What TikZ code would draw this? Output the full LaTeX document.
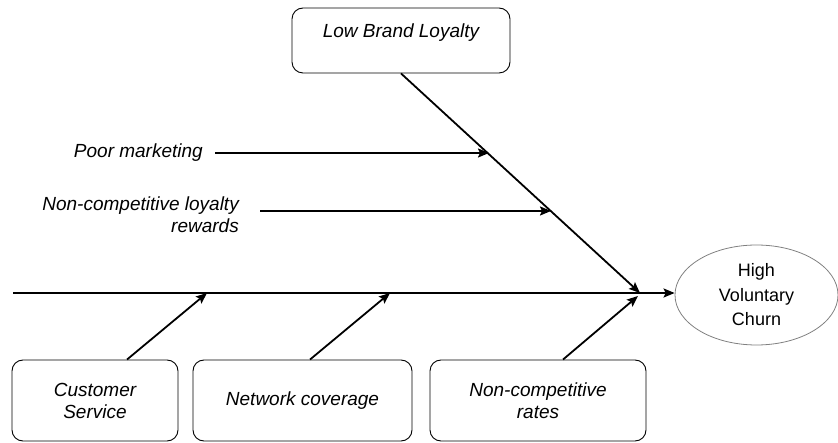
\documentclass[tikz,border=0pt]{standalone}
\usepackage{fontspec}
\setmainfont{Liberation Sans}
\usetikzlibrary{shapes,arrows.meta}
\tikzset{cause/.style={rectangle,draw,rounded corners=11pt,line width=0.9pt,align=center,font=\itshape\fontsize{19}{22}\selectfont}}
\tikzset{churn/.style={ellipse,draw=gray,line width=0.8pt,minimum width=163pt,minimum height=100pt,inner sep=0pt,align=center,font=\fontsize{18}{24.5}\selectfont}}
\tikzset{sub/.style={inner sep=0pt,align=right,font=\itshape\fontsize{19}{22}\selectfont}}
\tikzset{bone/.style={line width=1.8pt,-{Stealth[length=11pt,width=9pt,inset=2pt]}}}

\begin{document}
\begin{tikzpicture}[x=1pt,y=-1pt]
    \useasboundingbox (0,0) rectangle (838,443);

    \node[cause,minimum width=218pt,minimum height=65pt,text depth=19pt] (b)at (401,40.5) {Low Brand Loyalty};
    \node[churn] (c)at (756.5,295) {High\\Voluntary\\Churn};
    \node[cause,minimum width=166pt,minimum height=81pt] (cs)at (95,400.5) {Customer\\Service};
    \node[cause,minimum width=219pt,minimum height=81pt] (nc)at (302.5,400.5) {Network coverage};
    \node[cause,minimum width=216pt,minimum height=81pt] (nr)at (538,400.5) {Non-competitive\\rates};
    \node[sub,anchor=east] (pm)at (203,153) {Poor marketing};
    \node[sub,anchor=north east] (lr)at (239,197) {Non-competitive loyalty\\rewards};

    \coordinate (t)at (13,293);
    \coordinate (m)at (640,293);
    \coordinate (h1)at (489,153);
    \coordinate (h2)at (551,211);
    \coordinate (s1)at (207,293);
    \coordinate (s2)at (390,293);
    \coordinate (s3)at (638,296);

    \draw [bone] (t) to [] (t -| c.west);
    \draw [bone] (b.south) to [] (m);
    \draw [bone] ([xshift=12pt]pm.east) to [] (h1);
    \draw [bone] (lr.east |- h2) ++(21,0) to [] (h2);
    \draw [bone] ([xshift=32pt]cs.north) to [] (s1);
    \draw [bone] ([xshift=7.5pt]nc.north) to [] (s2);
    \draw [bone] ([xshift=25pt]nr.north) to [] (s3);
\end{tikzpicture}
\end{document}
